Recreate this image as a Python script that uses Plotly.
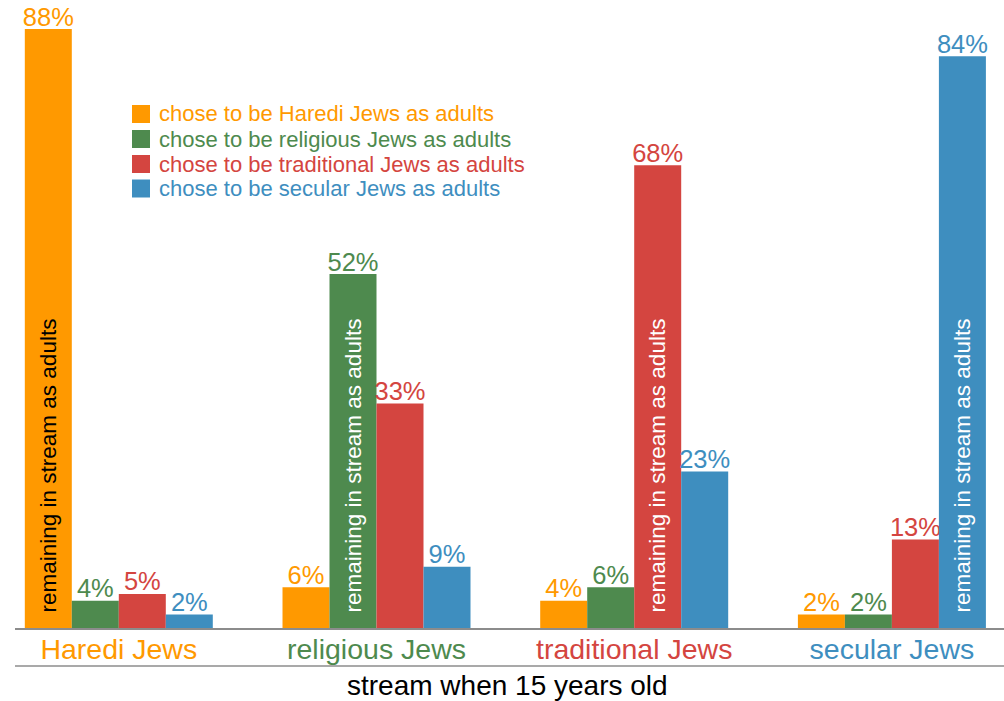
import plotly.graph_objects as go

# ---- data ----
categories = ["Haredi Jews", "religious Jews", "traditional Jews", "secular Jews"]
series_names = [
    "chose to be Haredi Jews as adults",
    "chose to be religious Jews as adults",
    "chose to be traditional Jews as adults",
    "chose to be secular Jews as adults",
]
haredi_adults = [88, 6, 4, 2]
religious_adults = [4, 52, 6, 2]
traditional_adults = [5, 33, 68, 13]
secular_adults = [2, 9, 23, 84]
inside_label = "remaining in stream as adults"
axis_title = "stream when 15 years old"

series_values = [haredi_adults, religious_adults, traditional_adults, secular_adults]

# ---- styles ----
colors = ["#FF9900", "#4E8A4E", "#D44540", "#3E8EBF"]
inside_text_colors = ["black", "white", "white", "white"]
FONT = "Liberation Sans, Arial, sans-serif"

W, H = 1004, 701
ML, MR, MT, MB = 15, 0, 0, 701 - 628
PW, PH = W - ML - MR, H - MT - MB
Y_MAX = PH * 88 / 599          # 88 % bar is 599 px tall
LABEL_DROP = 4.5 * Y_MAX / PH  # pull value labels a few px closer to the bar tops


def px_x(p):
    return (p - ML) / PW


def px_y(p):
    return (H - MB - p) / PH


fig = go.Figure()

for i, (name, vals) in enumerate(zip(series_names, series_values)):
    # visible bars, with the in-bar label on the "remaining" bar
    fig.add_trace(go.Bar(
        x=categories, y=vals, name=name,
        marker=dict(color=colors[i], line=dict(width=0)),
        text=["\u00a0\u00a0" + inside_label if j == i else "" for j in range(len(vals))],
        textposition=["inside" if j == i else "none" for j in range(len(vals))],
        insidetextanchor="start", textangle=-90,
        insidetextfont=dict(color=inside_text_colors[i], size=22.5, family=FONT),
        constraintext="none",
        offsetgroup=str(i), showlegend=False,
    ))
    # transparent companion carrying the percentage labels
    fig.add_trace(go.Bar(
        x=categories, y=vals, base=-LABEL_DROP,
        marker=dict(color="rgba(0,0,0,0)", line=dict(width=0)),
        text=[f"{v}%" for v in vals], textposition="outside", textangle=0,
        textfont=dict(color=colors[i], size=25.5, family=FONT),
        constraintext="none", cliponaxis=False,
        offsetgroup=str(i), showlegend=False, hoverinfo="skip",
    ))

# manual legend
shapes = []
annotations = []
row_centers = [114, 139, 164, 188.5]
for i, name in enumerate(series_names):
    cy = row_centers[i]
    shapes.append(dict(type="rect", xref="paper", yref="paper",
                       x0=px_x(132), x1=px_x(150), y0=px_y(cy - 9), y1=px_y(cy + 9),
                       fillcolor=colors[i], line=dict(width=0)))
    annotations.append(dict(xref="paper", yref="paper", x=px_x(157), y=px_y(cy),
                            xanchor="left", yanchor="middle", showarrow=False,
                            text=name, font=dict(color=colors[i], size=22, family=FONT)))

# axis title
annotations.append(dict(xref="paper", yref="paper", x=px_x(507), y=px_y(685),
                        xanchor="center", yanchor="middle", showarrow=False,
                        text=axis_title, font=dict(color="black", size=28, family=FONT)))

# lower rule under category labels
shapes.append(dict(type="line", xref="paper", yref="paper", x0=0, x1=1,
                   y0=px_y(666), y1=px_y(666), line=dict(color="#8c8c8c", width=1.5)))

fig.update_layout(
    width=W, height=H,
    margin=dict(l=ML, r=MR, t=MT, b=MB, autoexpand=False),
    paper_bgcolor="white", plot_bgcolor="white",
    barmode="group", bargap=0.2705, bargroupgap=0,
    font=dict(family=FONT),
    shapes=shapes, annotations=annotations,
    xaxis=dict(
        type="category", range=[-0.4028, 3.435], automargin=False,
        tickmode="array", tickvals=categories,
        ticktext=[f"<span style='color:{c}'>{t}</span>" for t, c in zip(categories, colors)],
        tickfont=dict(size=28.5, family=FONT), ticks="", ticklabelstandoff=-5,
        showline=True, linecolor="#8c8c8c", linewidth=1.5,
        showgrid=False, zeroline=False,
    ),
    yaxis=dict(range=[0, Y_MAX], visible=False, showgrid=False, zeroline=False,
               automargin=False),
)

fig.write_html(
    "out.html",
    config={"displayModeBar": False},
    post_script="document.body.style.margin='0';document.body.style.padding='0';",
)
